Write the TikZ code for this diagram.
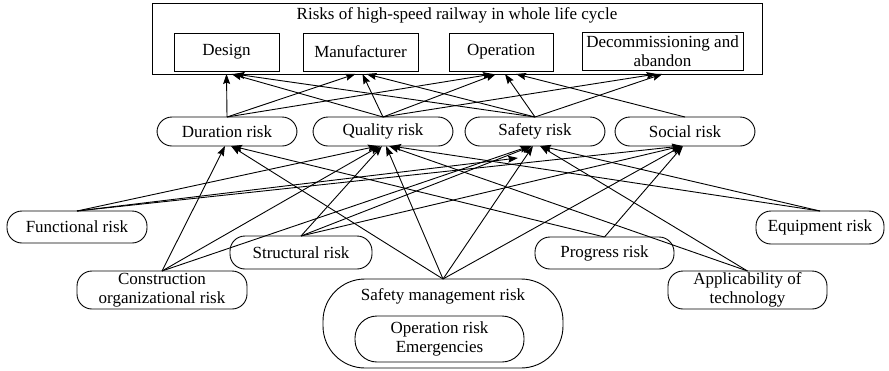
\documentclass[tikz,border=0pt]{standalone}
\usepackage{fontspec}
\setmainfont{Liberation Serif}
\usetikzlibrary{arrows.meta,calc}
\begin{document}
\begin{tikzpicture}[x=1pt,y=-1pt,
  font=\fontsize{17}{19}\selectfont,
  every node/.style={inner sep=0pt, outer sep=0pt},
  rbox/.style={draw, line width=0.9pt, rectangle, align=center},
  pill/.style={draw, line width=0.9pt, rounded corners=15pt, align=center},
  arr/.style={-{Stealth[length=10pt,width=7pt,inset=1.5pt]}, line width=0.9pt}
]
\useasboundingbox (0,0) rectangle (889,370);

% top frame
\node[rbox, minimum width=610, minimum height=71] (outer) at (457,38.5) {};
\node (title) at (457,15) {Risks of high-speed railway in whole life cycle};
\node[rbox, minimum width=105, minimum height=38] (design) at (226.5,52) {Design};
\node[rbox, minimum width=115, minimum height=38] (manuf) at (360.5,52) {Manufacturer};
\node[rbox, minimum width=104, minimum height=38] (oper) at (501,52) {Operation};
\node[rbox, minimum width=161, minimum height=38] (decom) at (662.5,51.5) {Decommissioning and\\abandon};

% middle row
\node[pill, minimum width=140, minimum height=29] (dur) at (227,131.5) {Duration risk};
\node[pill, minimum width=140, minimum height=29] (qual) at (383,131.5) {Quality risk};
\node[pill, minimum width=140, minimum height=29] (saf) at (535,131.5) {Safety risk};
\node[pill, minimum width=140, minimum height=29] (soc) at (685,131.5) {Social risk};

% bottom
\node[pill, minimum width=140, minimum height=32] (func) at (77,227) {Functional risk};
\node[pill, minimum width=142, minimum height=33] (struct) at (301,252.5) {Structural risk};
\node[pill, minimum width=170, minimum height=38] (constr) at (162,290) {Construction\\organizational risk};
\node[draw, line width=0.9pt, rounded corners=42pt, minimum width=240, minimum height=89] (smgmt) at (443,323.5) {};
\node (smlabel) at (443,296) {Safety management risk};
\node[draw, line width=0.9pt, rounded corners=22pt, minimum width=169, minimum height=46, align=center] (oprisk) at (439.5,339) {Operation risk\\Emergencies};
\node[pill, minimum width=139, minimum height=32] (prog) at (604.5,253) {Progress risk};
\node[pill, minimum width=159, minimum height=38] (appl) at (747.5,290) {Applicability of\\technology};
\node[pill, minimum width=128, minimum height=33] (equip) at (820,227.5) {Equipment risk};
\coordinate (fsend) at (518,158);

% middle -> top
\draw[arr] (dur.north) -- ($(design.south |- outer.south)+(0,0)$);
\draw[arr] (dur.north) -- ($(manuf.south |- outer.south)+(-5,0)$);
\draw[arr] (dur.north) -- ($(oper.south |- outer.south)+(-8,0)$);
\draw[arr] (qual.north) -- ($(design.south |- outer.south)+(5,0)$);
\draw[arr] (qual.north) -- ($(manuf.south |- outer.south)+(2,0)$);
\draw[arr] (qual.north) -- ($(oper.south |- outer.south)+(-5,0)$);
\draw[arr] (qual.north) -- ($(decom.south |- outer.south)+(-6,0)$);
\draw[arr] (saf.north) -- ($(design.south |- outer.south)+(8,0)$);
\draw[arr] (saf.north) -- ($(manuf.south |- outer.south)+(6,0)$);
\draw[arr] (saf.north) -- ($(oper.south |- outer.south)+(4,0)$);
\draw[arr] (saf.north) -- ($(decom.south |- outer.south)+(0,0)$);
\draw[arr] (soc.north) -- ($(oper.south |- outer.south)+(15,0)$);

% bottom -> middle
\draw[arr] (func.north) -- ($(qual.south)+(-5,0)$);
\draw[arr] (func.north) -- (fsend);
\draw[arr] (func.north) -- ($(soc.south)+(-3,0)$);
\draw[arr] (constr.north) -- ($(dur.south)+(-2,0)$);
\draw[arr] (constr.north) -- ($(qual.south)+(-3,0)$);
\draw[arr] (constr.north) -- ($(saf.south)+(-5,0)$);
\draw[arr] (struct.north) -- ($(qual.south)+(-1,0)$);
\draw[arr] (struct.north) -- ($(saf.south)+(-3,0)$);
\draw[arr] (struct.north) -- ($(soc.south)+(-3,0)$);
\draw[arr] (smgmt.north) -- ($(dur.south)+(4,0)$);
\draw[arr] (smgmt.north) -- ($(qual.south)+(3,0)$);
\draw[arr] (smgmt.north) -- ($(saf.south)+(-2,0)$);
\draw[arr] (smgmt.north) -- ($(soc.south)+(-3,0)$);
\draw[arr] (prog.north) -- ($(dur.south)+(5,0)$);
\draw[arr] (prog.north) -- ($(soc.south)+(-2,0)$);
\draw[arr] (appl.north) -- ($(qual.south)+(6,0)$);
\draw[arr] (appl.north) -- ($(saf.south)+(5,0)$);
\draw[arr] (equip.north) -- ($(qual.south)+(8,0)$);
\draw[arr] (equip.north) -- ($(saf.south)+(6,0)$);
\end{tikzpicture}
\end{document}
